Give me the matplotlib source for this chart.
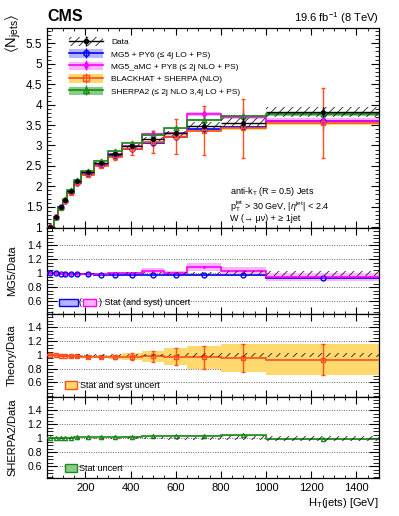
import numpy as np
import matplotlib
matplotlib.use("Agg")
import matplotlib.pyplot as plt
from matplotlib.patches import Patch, Rectangle
from matplotlib.lines import Line2D
from matplotlib.ticker import MultipleLocator, FormatStrFormatter, FixedLocator

plt.rcParams['font.family'] = ['Liberation Sans', 'DejaVu Sans']
plt.rcParams['mathtext.fontset'] = 'custom'
plt.rcParams['mathtext.rm'] = 'Liberation Sans'
plt.rcParams['mathtext.it'] = 'Liberation Sans:italic'
plt.rcParams['mathtext.fallback'] = 'stixsans'
plt.rcParams['hatch.linewidth'] = 0.6

# HT bins [GeV]
ht_edges = [30, 60, 80, 100, 120, 150, 180, 240, 300, 360, 450, 550, 650, 800, 1000, 1500]

# <N_jets> values per bin
data_mean = [1.01, 1.26, 1.49, 1.67, 1.88, 2.12, 2.34, 2.58, 2.80, 2.99, 3.15, 3.30, 3.48, 3.56, 3.82]
data_unc = [0.005, 0.006, 0.008, 0.01, 0.012, 0.015, 0.02, 0.025, 0.03, 0.04, 0.05, 0.065, 0.085, 0.11, 0.12]

mg5_mean = [1.010, 1.260, 1.483, 1.653, 1.861, 2.088, 2.305, 2.528, 2.744, 2.915, 3.071, 3.218, 3.393, 3.453, 3.591]
mg5_unc = [0.003, 0.004, 0.004, 0.005, 0.005, 0.006, 0.007, 0.008, 0.01, 0.012, 0.015, 0.018, 0.022, 0.028, 0.035]

amc_mean = [1.010, 1.260, 1.490, 1.662, 1.861, 2.099, 2.317, 2.554, 2.800, 2.990, 3.276, 3.300, 3.776, 3.702, 3.610]
amc_stat = [0.004, 0.005, 0.006, 0.007, 0.008, 0.01, 0.012, 0.015, 0.018, 0.022, 0.03, 0.035, 0.045, 0.05, 0.06]
amc_unc = [0.01, 0.012, 0.015, 0.017, 0.02, 0.025, 0.03, 0.04, 0.05, 0.07, 0.1, 0.13, 0.2, 0.2, 0.22]

bh_mean = [1.010, 1.260, 1.475, 1.653, 1.842, 2.078, 2.270, 2.503, 2.716, 2.915, 3.087, 3.218, 3.358, 3.418, 3.553]
bh_stat = [0.003, 0.004, 0.005, 0.006, 0.007, 0.008, 0.01, 0.012, 0.015, 0.018, 0.022, 0.026, 0.03, 0.035, 0.04]
bh_unc = [0.005, 0.006, 0.008, 0.01, 0.012, 0.017, 0.025, 0.04, 0.08, 0.15, 0.26, 0.42, 0.6, 0.72, 0.85]

sh_mean = [1.010, 1.260, 1.505, 1.687, 1.899, 2.152, 2.387, 2.632, 2.856, 3.065, 3.245, 3.416, 3.619, 3.720, 3.763]
sh_unc = [0.003, 0.004, 0.005, 0.005, 0.006, 0.007, 0.008, 0.009, 0.01, 0.012, 0.015, 0.018, 0.022, 0.03, 0.035]

labels = ["Data", "MG5 + PY6 (\u2264 4j LO + PS)", "MG5_aMC + PY8 (\u2264 2j NLO + PS)",
          "BLACKHAT + SHERPA (NLO)", "SHERPA2 (\u2264 2j NLO 3,4j LO + PS)"]

edges = np.array(ht_edges, float)
lo = edges[:-1]
wid = np.diff(edges)
cen = lo + wid / 2
dat = np.array(data_mean)
dunc = np.array(data_unc)

C_MG, B_MG = '#0000ff', '#b4b4ff'
C_AMC, B_AMC = '#ff00ff', '#ffb4ff'
C_BH, B_BH = '#ff4f1a', '#ffd86e'
C_SH, B_SH = '#1d8a1d', '#88cc88'

W, H = 399, 516
fig = plt.figure(figsize=(W / 100, H / 100), dpi=100)
L, R = 47, 379


def add_ax(top, bot):
    return fig.add_axes([L / W, 1 - bot / H, (R - L) / W, (bot - top) / H])


ax = add_ax(28, 228)
r1 = add_ax(228, 314)
r2 = add_ax(314, 397)
r3 = add_ax(397, 478)


def model(a, mean, band_unc, col, band, mk, mfc, err=None, ms=3.5, cap=0):
    mean = np.asarray(mean)
    band_unc = np.asarray(band_unc)
    a.bar(lo, 2 * band_unc, wid, bottom=mean - band_unc, align='edge', color=band, lw=0, zorder=1)
    a.stairs(mean, edges, baseline=None, color=col, lw=1.2, zorder=3)
    a.errorbar(cen, mean, yerr=err, fmt=mk, color=col, mfc=mfc,
               mec=col, ms=ms, lw=1, capsize=cap, zorder=4)


def data_band(a, mean, unc):
    a.bar(lo, 2 * unc, wid, bottom=mean - unc, align='edge', fill=False,
          hatch='////', edgecolor='#222222', lw=0, zorder=5)


# main panel
model(ax, mg5_mean, mg5_unc, C_MG, B_MG, 'o', 'none', err=mg5_unc)
model(ax, amc_mean, amc_stat, C_AMC, B_AMC, 'd', C_AMC, err=amc_unc, ms=3)
model(ax, bh_mean, bh_stat, C_BH, B_BH, 's', 'none', err=bh_unc, cap=1.5)
model(ax, sh_mean, sh_unc, C_SH, B_SH, '^', 'none', err=sh_unc)
data_band(ax, dat, dunc)
ax.errorbar(cen, dat, xerr=wid / 2, yerr=dunc, fmt='o', color='black', ms=2.5, lw=1, zorder=6)

# ratio panels
data_band(r1, np.ones_like(dat), dunc / dat)
model(r1, np.array(mg5_mean) / dat, np.array(mg5_unc) / dat, C_MG, B_MG, 'o', 'none')
model(r1, np.array(amc_mean) / dat, np.array(amc_unc) / dat, C_AMC, B_AMC, '.', C_AMC,
      err=np.array(amc_stat) / dat, ms=2)

model(r2, np.array(bh_mean) / dat, np.array(bh_unc) / dat, C_BH, B_BH, 's', 'none',
      err=np.array(bh_unc) / dat, cap=1.5)
data_band(r2, np.ones_like(dat), dunc / dat)

model(r3, np.array(sh_mean) / dat, np.array(sh_unc) / dat, C_SH, B_SH, '^', 'none', ms=3)
data_band(r3, np.ones_like(dat), dunc / dat)

# axes styling
for a in (ax, r1, r2, r3):
    a.set_xlim(30, 1500)
    a.xaxis.set_major_locator(MultipleLocator(200))
    a.xaxis.set_minor_locator(MultipleLocator(50))
    a.tick_params(which='both', direction='in', top=True, right=True, labelsize=8)
    a.tick_params(axis='x', which='major', length=5)
    a.tick_params(axis='x', which='minor', length=2.5)
    for s in a.spines.values():
        s.set_linewidth(0.9)
    if a is not r3:
        a.tick_params(axis='x', labelbottom=False)

ax.set_ylim(0.98, 5.875)
ax.yaxis.set_major_locator(MultipleLocator(0.5))
ax.yaxis.set_minor_locator(MultipleLocator(0.1))
ax.yaxis.set_major_formatter(FormatStrFormatter('%g'))
ax.tick_params(axis='y', which='major', length=6, labelsize=8.5)
ax.tick_params(axis='y', which='minor', length=3)

for a, yl in ((r1, (0.419, 1.647)), (r2, (0.389, 1.596)), (r3, (0.433, 1.59))):
    a.set_ylim(*yl)
    a.yaxis.set_major_locator(FixedLocator([0.6, 0.8, 1.0, 1.2, 1.4]))
    a.yaxis.set_minor_locator(MultipleLocator(0.05))
    a.yaxis.set_major_formatter(FormatStrFormatter('%g'))
    a.tick_params(axis='y', which='major', length=7, labelsize=7.5)
    a.tick_params(axis='y', which='minor', length=4)
    a.yaxis.grid(True, linestyle=(0, (1, 1.5)), color='#666666', lw=0.7)
    a.set_axisbelow(True)

# labels
fig.text(13 / W, 1 - 33 / H, r'$\langle\mathrm{N}_{\mathrm{jets}}\rangle$', rotation=90,
         ha='center', va='center', fontsize=10.5)
for a, txt, yc in ((r1, 'MG5/Data', 271), (r2, 'Theory/Data', 355.5), (r3, 'SHERPA2/Data', 437.5)):
    fig.text(12 / W, 1 - yc / H, txt, rotation=90, ha='center', va='center', fontsize=8)
r3.set_xlabel(r'H$_\mathrm{T}$(jets) [GeV]', fontsize=8, loc='right', labelpad=2)

fig.text(L / W, 1 - 16.5 / H, 'CMS', fontsize=11.5, fontweight='bold', ha='left', va='center')
fig.text(R / W, 1 - 18 / H, r'19.6 fb$^{-1}$ (8 TeV)', fontsize=8, ha='right', va='center')

ax.text(0.551, 0.18, r'anti-k$_\mathrm{T}$ (R = 0.5) Jets', transform=ax.transAxes, fontsize=6.5, va='center')
ax.text(0.551, 0.11, r'p$_\mathrm{T}^\mathrm{jet}$ > 30 GeV, |$\eta^\mathrm{jet}$| < 2.4',
        transform=ax.transAxes, fontsize=6.5, va='center')
ax.text(0.551, 0.048, 'W (\u2192 \u03bc\u03bd) + \u2265 1jet', transform=ax.transAxes, fontsize=6.5, va='center')

# legend
def vbar(c):
    return Line2D([], [], color=c, marker='|', ms=7, ls='none', mew=1)

handles = [
    (Patch(facecolor='none', edgecolor='#222222', hatch='////', lw=0),
     Line2D([], [], color='black', lw=1, marker='o', ms=3), vbar('black')),
    (Patch(facecolor=B_MG, lw=0), Line2D([], [], color=C_MG, lw=1.2, marker='o', mfc='none', ms=4), vbar(C_MG)),
    (Patch(facecolor=B_AMC, lw=0), Line2D([], [], color=C_AMC, lw=1.2, marker='d', ms=3.5), vbar(C_AMC)),
    (Patch(facecolor=B_BH, lw=0), Line2D([], [], color=C_BH, lw=1.2, marker='s', mfc='none', ms=4), vbar(C_BH)),
    (Patch(facecolor=B_SH, lw=0), Line2D([], [], color=C_SH, lw=1.2, marker='^', mfc='none', ms=4), vbar(C_SH)),
]
ax.legend(handles, labels, loc='upper left', bbox_to_anchor=(0.066, 0.955), frameon=False,
          fontsize=6, handlelength=4.1, handleheight=1.2, handletextpad=1.0, labelspacing=0.4,
          borderpad=0, borderaxespad=0, numpoints=1)

# ratio panel legends
def box(a, x0, y0, x1, y1, fc, ec):
    a.add_patch(Rectangle((x0, y0), x1 - x0, y1 - y0, transform=a.transAxes, facecolor=fc,
                          edgecolor=ec, lw=1, zorder=7))

box(r1, 0.037, 0.093, 0.092, 0.174, B_MG, C_MG)
r1.text(0.096, 0.133, '(', transform=r1.transAxes, fontsize=6.5, va='center')
box(r1, 0.109, 0.093, 0.149, 0.174, B_AMC, C_AMC)
r1.text(0.157, 0.133, ') Stat (and syst) uncert', transform=r1.transAxes, fontsize=6.5, va='center')

box(r2, 0.054, 0.092, 0.091, 0.19, B_BH, C_BH)
r2.text(0.1, 0.14, 'Stat and syst uncert', transform=r2.transAxes, fontsize=6.5, va='center')

box(r3, 0.054, 0.07, 0.091, 0.169, B_SH, C_SH)
r3.text(0.096, 0.12, 'Stat uncert', transform=r3.transAxes, fontsize=6.5, va='center')

fig.savefig('out.png', dpi=100)
